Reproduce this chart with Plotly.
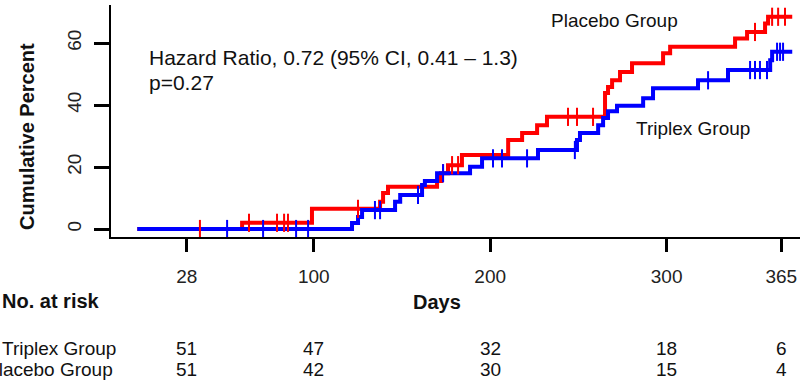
import plotly.graph_objects as go
import numpy as np

# ---------------- data ----------------
placebo_event_days = [0, 59.4, 99.0, 137.6, 139.3, 142.1, 169.9, 172.1, 176.1, 184.0,
                      210.2, 218.1, 226.6, 232.2, 265.1, 266.8, 269.1, 273.6, 280.4,
                      298.0, 302.0, 338.8, 345.6, 355.8, 357.5]
placebo_event_pct = [0, 2.0, 6.5, 8.8, 11.6, 13.6, 15.5, 18.0, 20.6, 23.9,
                     28.7, 31.0, 33.5, 36.2, 43.9, 45.8, 48.0, 50.7, 53.5,
                     56.7, 58.8, 61.5, 63.6, 66.3, 68.5]
placebo_end_day = 371.2
placebo_censor_days = [35.5, 63.3, 79.2, 83.2, 85.4, 125.1, 173.3, 178.4, 181.8,
                       244.1, 249.2, 258.3, 350.1, 359.8, 363.2, 367.1]

triplex_event_days = [0, 121.7, 125.1, 127.4, 146.1, 149.0, 161.4, 163.0, 169.9, 188.6,
                      195.4, 227.1, 249.2, 250.9, 261.2, 264.0, 266.8, 271.9, 286.7,
                      292.3, 317.8, 334.8, 358.7, 359.8]
triplex_event_pct = [0, 1.9, 3.9, 6.1, 8.8, 11.0, 14.2, 15.5, 18.0, 20.1,
                     22.8, 25.5, 28.7, 31.0, 33.5, 35.8, 38.0, 39.8, 42.2,
                     45.4, 48.0, 51.3, 54.5, 57.2]
triplex_end_day = 371.2
triplex_censor_days = [50.9, 71.3, 90.0, 96.8, 134.7, 137.6, 159.1, 173.3, 201.6, 206.7,
                       220.9, 248.0, 323.5, 347.3, 350.1, 352.9, 356.9, 362.6, 364.3, 366.0]

risk_days = [28, 100, 200, 300, 365]
risk_triplex = [51, 47, 32, 18, 6]
risk_placebo = [51, 42, 30, 15, 4]
y_ticks = [0, 20, 40, 60]

RED = "#ff0000"
BLUE = "#0000ff"
FONT = "Liberation Sans, Arial, sans-serif"
TXT = "#111111"

W, H = 804, 383
L, R, T, B = 111, 4, 5, 146
pw, ph = W - L - R, H - T - B


def px(xp):
    return (xp - L) / pw


def py(yp):
    return (H - B - yp) / ph


def step_level(days, pct, t):
    idx = np.searchsorted(np.array(days), t, side="right") - 1
    return pct[max(idx, 0)]


fig = go.Figure()

groups = [
    (placebo_event_days, placebo_event_pct, placebo_end_day, placebo_censor_days, RED),
    (triplex_event_days, triplex_event_pct, triplex_end_day, triplex_censor_days, BLUE),
]
for days, pct, end, cens, col in groups:
    xs = list(days) + [end]
    ys = list(pct) + [pct[-1]]
    fig.add_trace(go.Scatter(x=xs, y=ys, mode="lines", line=dict(color=col, width=4, shape="hv"),
                             hoverinfo="skip", showlegend=False))
for days, pct, end, cens, col in groups:
    fig.add_trace(go.Scatter(x=cens, y=[step_level(days, pct, c) for c in cens], mode="markers",
                             marker=dict(symbol="line-ns-open", size=13, color=col,
                                         line=dict(color=col, width=2)),
                             hoverinfo="skip", showlegend=False))

fig.update_xaxes(range=[-14.9, 375.6], tickvals=risk_days, ticktext=[str(d) for d in risk_days],
                 showline=True, linecolor="black", linewidth=2, ticks="outside", ticklen=13,
                 tickwidth=3, tickcolor="black", showgrid=False, zeroline=False,
                 tickfont=dict(family=FONT, size=19, color="#222"), ticklabelstandoff=8)
fig.update_yaxes(range=[-2.58, 72.3], tickvals=y_ticks, showline=True, linecolor="black", linewidth=2,
                 ticks="outside", ticklen=15, tickwidth=3, tickcolor="black", showgrid=False,
                 zeroline=False, tickangle=-90,
                 tickfont=dict(family=FONT, size=19, color="#222"), ticklabelstandoff=5)


def note(xp, yp, text, size, xanchor="center", angle=0, xref="paper"):
    return dict(x=px(xp) if xref == "paper" else xp, y=py(yp), xref=xref, yref="paper",
                xanchor=xanchor, yanchor="middle", text=text, textangle=angle, showarrow=False,
                font=dict(family=FONT, size=size, color=TXT))


ann = [
    note(27, 137, "<b>Cumulative Percent</b>", 20, angle=-90),
    note(147, 57, "Hazard Ratio, 0.72 (95% CI, 0.41 \u2013 1.3)", 21, xanchor="left"),
    note(147, 82, "p=0.27", 21, xanchor="left"),
    note(680, 20, "Placebo Group", 19, xanchor="right"),
    note(752, 128, "Triplex Group", 19, xanchor="right"),
    note(0, 301, "<b>No. at risk</b>", 20, xanchor="left"),
    note(437, 302, "<b>Days</b>", 20),
    note(0, 348, "Triplex Group", 19, xanchor="left"),
    note(115, 369, "Placebo Group", 19, xanchor="right"),
]
for d, a, b in zip(risk_days, risk_triplex, risk_placebo):
    ann.append(note(d, 348, str(a), 19, xref="x"))
    ann.append(note(d, 369, str(b), 19, xref="x"))

fig.update_layout(width=W, height=H, autosize=False, margin=dict(l=L, r=R, t=T, b=B, pad=0),
                  plot_bgcolor="white", paper_bgcolor="white", annotations=ann,
                  font=dict(family=FONT))

fig.write_html("out.html")
